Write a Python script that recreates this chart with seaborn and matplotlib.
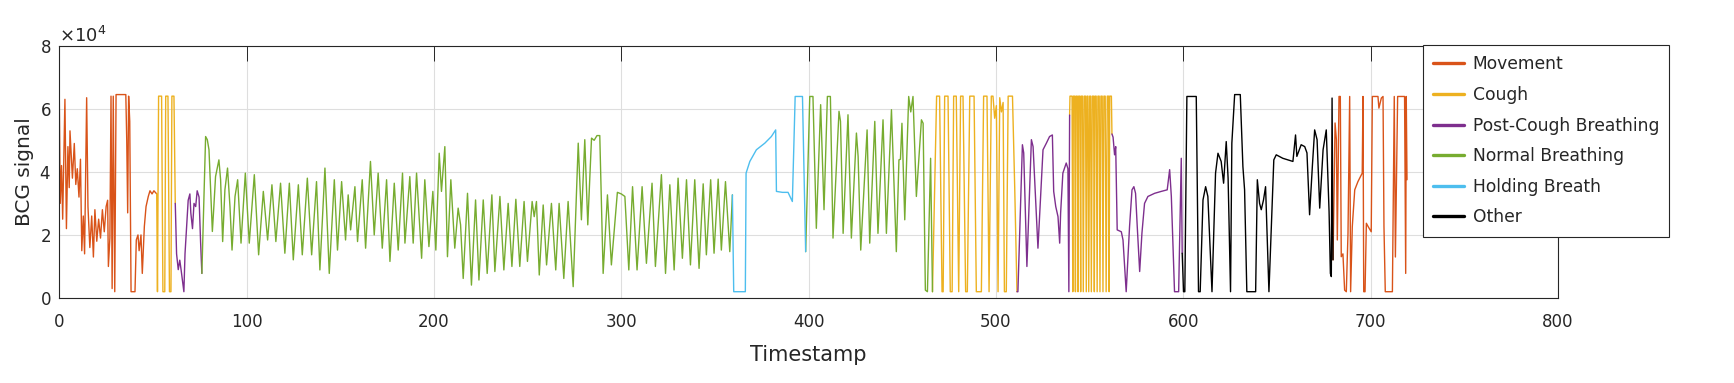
import numpy as np
import pandas as pd
import matplotlib
matplotlib.use("Agg")
import matplotlib.pyplot as plt
import seaborn as sns
from matplotlib.ticker import ScalarFormatter

sns.set_theme(style="white")
plt.rcParams['font.family'] = ['DejaVu Sans']

# signal values are in units of 1e4 (axis shows x10^4)
SCALE = 1e4

move1_t = [0.0, 0.5, 1.2, 1.8, 3.0, 3.8, 4.6, 5.3, 5.7, 7.0, 8.0, 8.8, 9.6, 10.5, 11.3, 12.0, 12.8,
           13.5, 14.6, 15.3, 16.3, 17.3, 18.2, 19.0, 20.0, 21.0, 22.0, 23.0, 24.0, 25.0, 25.8, 26.2,
           27.0, 27.6, 28.2, 28.8, 29.6, 30.3, 35.5, 36.0, 36.5, 37.0, 37.6, 38.3, 40.4, 41.1, 42.0,
           42.6, 43.6, 44.3, 45.4, 46.3, 47.5, 48.4, 49.5, 50.5, 52.0]
move1_v = [6.3, 3.0, 4.2, 2.5, 6.3, 2.2, 4.8, 3.5, 5.3, 3.8, 4.9, 3.6, 4.1, 3.2, 4.4, 1.5, 2.6,
           1.4, 6.35, 2.9, 1.6, 2.6, 1.3, 2.8, 1.8, 2.5, 1.9, 2.8, 2.1, 2.9, 3.1, 1.0,
           1.9, 6.4, 0.3, 6.4, 0.2, 6.45, 6.45, 5.0, 2.7, 6.4, 5.6, 0.2, 0.2, 1.84, 2.0,
           1.5, 2.0, 0.78, 2.27, 2.9, 3.22, 3.4, 3.3, 3.4, 3.3]

cough1_t = [52.0, 52.4, 53.0, 54.6, 55.3, 56.3, 56.8, 58.0, 58.8, 59.6, 60.1, 61.2, 61.9]
cough1_v = [3.3, 0.2, 6.4, 6.4, 0.2, 0.2, 6.4, 6.4, 0.2, 0.2, 6.4, 6.4, 3.0]

post1_t = [61.9, 62.6, 63.5, 64.3, 65.0, 66.5, 67.1, 68.0, 68.8, 69.7, 70.2, 71.1, 71.9, 72.8,
           73.6, 74.6, 75.4, 76.1]
post1_v = [3.0, 1.4, 0.9, 1.2, 0.9, 0.2, 1.4, 2.3, 3.1, 3.3, 2.7, 2.2, 3.0, 2.9,
           3.4, 3.2, 1.8, 0.78]

norm1_t = [76.1, 78.1, 79.0, 79.9, 80.8, 81.7, 82.5, 83.4, 85.2, 86.1, 87.2, 88.4, 89.8, 91.1,
           92.2, 93.8, 95.2, 97.0, 99.3, 101.4, 104.1, 106.4, 108.9, 111.2, 113.5, 115.6, 118.1,
           120.4, 122.8, 124.9, 127.6, 129.7, 132.4, 134.7, 137.3, 139.1, 141.8, 144.1, 146.8,
           148.5, 150.7, 152.8, 154.2, 155.5, 157.8, 159.2, 161.7, 163.5, 166.1, 168.1, 170.2,
           172.4, 174.7, 176.5, 178.8, 180.9, 183.2, 184.5, 187.1, 188.9, 190.7, 193.4, 195.1,
           197.3, 199.4, 201.0, 202.8, 204.0, 205.8, 207.2, 209.0, 211.1, 212.9, 214.2, 215.6,
           217.9, 220.0, 222.2, 224.0, 226.3, 228.4, 230.9, 232.5, 235.2, 237.3, 239.6, 241.6,
           243.7, 245.8, 248.1, 249.9, 252.4, 253.5, 254.7, 256.2, 258.3, 260.1, 262.7, 265.0,
           266.8, 269.3, 271.6, 274.3, 277.0, 278.7, 280.5, 282.1, 284.1, 285.5, 287.0, 288.5,
           290.3, 292.6, 294.7, 297.9, 300.0, 301.9, 304.0, 306.0, 308.4, 311.1, 313.4, 316.4,
           318.2, 321.4, 323.6, 325.9, 328.2, 330.3, 332.6, 334.8, 336.9, 339.2, 341.5, 343.7,
           345.4, 347.7, 349.5, 351.7, 353.4, 355.6, 357.9, 359.3]
norm1_v = [0.78, 5.12, 5.02, 4.7, 3.43, 2.11, 2.9, 3.85, 4.38, 3.75, 1.79, 3.43, 4.12, 2.9,
           1.52, 3.22, 3.75, 1.74, 3.96, 1.74, 3.91, 1.37, 3.38, 1.84, 3.59, 1.79, 3.64,
           1.42, 3.64, 1.21, 3.59, 1.37, 3.8, 1.37, 3.69, 0.89, 4.12, 0.78, 3.75,
           1.52, 3.69, 1.84, 3.27, 2.16, 3.53, 1.79, 3.75, 1.58, 4.33, 2.0, 3.96,
           1.58, 3.75, 1.16, 3.64, 1.52, 3.96, 1.74, 3.85, 1.74, 3.96, 1.26, 3.75,
           1.63, 3.38, 1.52, 4.59, 3.38, 4.8, 1.31, 3.75, 1.58, 2.85, 2.32, 0.62,
           3.32, 0.41, 3.11, 0.57, 3.11, 0.78, 3.27, 0.84, 3.22, 0.89, 3.0, 1.0,
           3.13, 1.0, 3.06, 1.16, 3.06, 2.58, 3.06, 0.73, 2.95, 1.05, 3.0, 0.89,
           3.0, 0.62, 3.06, 0.36, 4.91, 2.48, 5.02, 2.32, 5.07, 5.0, 5.15, 5.15,
           0.78, 3.27, 1.05, 3.35, 3.3, 3.22, 0.89, 3.53, 0.89, 3.53, 1.1, 3.64,
           1.0, 3.91, 0.78, 3.59, 0.89, 3.8, 1.26, 3.75, 1.05, 3.75, 0.94, 3.62,
           1.37, 3.75, 1.42, 3.77, 1.52, 3.69, 1.47, 3.27]

hold_t = [359.3, 360.0, 366.2, 366.6, 368.6, 372.1, 376.6, 380.1, 382.4, 382.8, 386.0, 389.0,
          391.3, 392.8, 396.7, 398.4]
hold_v = [3.27, 0.2, 0.2, 3.96, 4.33, 4.7, 4.91, 5.12, 5.33, 3.38, 3.35, 3.35,
          3.06, 6.39, 6.39, 1.47]

norm2_t = [398.4, 400.6, 402.3, 404.1, 406.4, 408.2, 410.0, 411.6, 413.0, 416.2, 417.0, 418.4,
           421.0, 422.8, 425.5, 426.4, 427.8, 431.2, 432.6, 435.3, 437.0, 439.7, 441.5, 444.2,
           446.8, 448.2, 449.0, 449.8, 451.3, 453.4, 454.5, 455.7, 457.5, 460.2, 461.1, 462.3,
           463.4, 465.1, 466.1]
norm2_v = [1.47, 6.39, 6.39, 2.21, 6.13, 2.8, 6.39, 6.39, 1.9, 5.92, 5.6, 2.05,
           5.81, 1.9, 5.23, 4.49, 1.52, 5.33, 1.74, 5.6, 2.05, 5.65, 2.05, 5.97,
           1.47, 4.38, 4.4, 5.54, 2.48, 6.39, 5.9, 6.39, 3.22, 5.65, 5.54, 0.25,
           0.2, 4.43, 0.2]

cough2_t = [466.1, 468.3, 469.9, 471.2, 471.8, 472.6, 474.4, 475.6, 476.6, 477.4, 478.8, 480.1,
            481.1, 482.4, 483.8, 484.7, 486.0, 488.3, 489.5, 492.2, 493.4, 495.2, 496.3, 497.5,
            498.4, 499.3, 500.2, 501.1, 502.0, 502.9, 503.8, 504.5, 505.5, 506.5, 508.8, 510.0,
            511.2]
cough2_v = [0.2, 6.4, 6.4, 0.2, 0.2, 6.4, 6.4, 0.2, 0.2, 6.4, 6.4, 0.2,
            6.4, 6.4, 0.2, 0.2, 6.4, 6.4, 0.2, 0.2, 6.4, 6.4, 0.2, 6.4,
            6.4, 5.7, 6.1, 0.2, 6.35, 5.9, 6.2, 0.2, 0.2, 6.4, 6.4, 3.5,
            0.2]

post2_t = [511.2, 511.7, 514.1, 514.8, 516.5, 518.9, 519.8, 522.4, 525.1, 526.9, 528.6, 530.1,
           530.8, 531.9, 533.1, 534.0, 534.5, 535.7, 537.5, 538.4, 538.9, 539.3]
post2_v = [0.2, 0.2, 4.86, 4.6, 1.0, 5.02, 4.8, 1.58, 4.7, 4.91, 5.12, 5.17,
           3.38, 2.9, 2.58, 1.74, 2.69, 3.96, 4.28, 4.1, 0.2, 5.8]

cough3_t = [539.3, 539.5, 540.6, 541.0, 541.3, 542.0, 542.4, 542.7, 543.4, 543.8, 544.1, 544.8,
            545.2, 545.5, 546.2, 546.6, 547.1, 547.8, 548.2, 548.6, 549.1, 549.5, 550.0, 550.5,
            550.9, 551.4, 552.1, 552.5, 552.8, 553.5, 554.0, 554.4, 555.1, 555.5, 556.0, 556.7,
            557.1, 557.6, 558.3, 558.8, 559.4, 560.1, 560.4, 560.7, 561.6, 561.9]
cough3_v = [5.8, 6.4, 6.4, 0.2, 6.4, 6.4, 0.2, 6.4, 6.4, 0.2, 6.4, 6.4,
            0.2, 6.4, 6.4, 0.2, 6.4, 6.4, 0.2, 6.4, 6.4, 0.2, 6.4, 6.4,
            0.2, 6.4, 6.4, 0.2, 6.4, 6.4, 0.2, 6.4, 6.4, 0.2, 6.4, 6.4,
            0.2, 6.4, 6.4, 0.2, 6.4, 6.4, 0.2, 6.4, 6.4, 5.2]

post3_t = [561.9, 562.5, 563.3, 563.9, 564.7, 566.9, 567.8, 569.5, 571.3, 572.6, 573.6, 574.5,
           575.4, 576.7, 577.9, 579.3, 581.1, 584.7, 588.2, 591.4, 592.7, 593.6, 594.5, 595.3,
           597.5, 598.9, 599.4]
post3_v = [5.2, 5.1, 4.54, 4.8, 2.16, 2.1, 1.84, 0.2, 2.27, 3.43, 3.53, 3.32,
           2.27, 0.84, 2.05, 3.0, 3.22, 3.32, 3.38, 3.43, 4.07, 3.22, 1.63, 0.2,
           0.2, 4.43, 1.42]

other_t = [599.4, 600.1, 600.8, 601.9, 606.9, 608.1, 609.0, 610.5, 611.9, 613.1, 615.3, 617.2,
           618.5, 620.2, 621.5, 622.9, 623.9, 625.2, 625.9, 627.4, 630.4, 631.8, 632.7, 633.9,
           638.6, 639.5, 640.7, 641.6, 642.8, 643.9, 645.7, 648.3, 649.6, 653.1, 658.5, 659.9,
           660.6, 662.9, 664.8, 666.0, 667.4, 668.9, 670.1, 671.4, 672.8, 674.6, 676.3, 677.8,
           678.5, 679.0, 679.4, 679.9]
other_v = [1.42, 0.2, 0.2, 6.39, 6.39, 0.2, 0.2, 3.11, 3.53, 3.22, 0.2, 3.96,
           4.59, 4.33, 3.64, 4.96, 3.8, 0.2, 4.91, 6.45, 6.45, 4.17, 3.43, 0.2,
           0.2, 3.75, 3.0, 2.8, 3.11, 3.53, 0.2, 4.38, 4.54, 4.43, 4.33, 5.17,
           4.49, 4.86, 4.8, 4.6, 2.64, 4.2, 5.33, 5.02, 2.85, 4.7, 5.33, 2.74,
           0.78, 0.68, 6.34, 1.21]

move2_t = [679.9, 680.4, 681.0, 681.7, 682.2, 683.1, 683.8, 684.3, 685.2, 686.1, 687.0, 687.9,
           688.8, 689.3, 690.2, 691.5, 693.2, 695.5, 695.9, 696.3, 697.0, 697.7, 698.6, 700.3,
           700.9, 703.9, 704.4, 705.7, 706.6, 707.1, 707.8, 711.6, 712.6, 713.2, 714.4, 718.1,
           718.7, 719.0, 719.4]
move2_v = [1.21, 3.11, 5.55, 5.02, 1.84, 6.39, 6.39, 1.31, 1.4, 0.25, 0.2, 2.05,
           6.39, 0.2, 2.27, 3.43, 3.69, 3.96, 6.39, 0.2, 0.2, 2.37, 2.27, 2.1,
           6.39, 6.39, 6.02, 6.34, 6.39, 2.27, 0.2, 0.2, 6.39, 1.3, 6.39, 6.39,
           0.78, 6.39, 3.75]

labels = ["Movement", "Cough", "Post-Cough Breathing", "Normal Breathing", "Holding Breath", "Other"]
colors = ["#D95319", "#EDB120", "#7E2F8E", "#77AC30", "#4DBEEE", "#000000"]

segments = [
    ("Movement", move1_t, move1_v),
    ("Cough", cough1_t, cough1_v),
    ("Post-Cough Breathing", post1_t, post1_v),
    ("Normal Breathing", norm1_t, norm1_v),
    ("Holding Breath", hold_t, hold_v),
    ("Normal Breathing", norm2_t, norm2_v),
    ("Cough", cough2_t, cough2_v),
    ("Post-Cough Breathing", post2_t, post2_v),
    ("Cough", cough3_t, cough3_v),
    ("Post-Cough Breathing", post3_t, post3_v),
    ("Other", other_t, other_v),
    ("Movement", move2_t, move2_v),
]

rows = []
for i, (lab, ts, vs) in enumerate(segments):
    for t, v in zip(ts, vs):
        rows.append((i, lab, t, v * SCALE))
df = pd.DataFrame(rows, columns=["seg", "label", "Timestamp", "BCG"])

fig = plt.figure(figsize=(17.34, 3.83), dpi=100)
ax = fig.add_axes([0.0342, 0.2219, 0.8643, 0.6588])

sns.lineplot(data=df, x="Timestamp", y="BCG", hue="label", hue_order=labels,
             palette=dict(zip(labels, colors)), units="seg", estimator=None, sort=False,
             linewidth=1.0, ax=ax, legend=False)

ax.set_xlim(0, 800)
ax.set_ylim(0, 8e4)
ax.set_xticks(range(0, 801, 100))
ax.set_yticks([0, 2e4, 4e4, 6e4, 8e4])
fmt = ScalarFormatter(useMathText=True)
fmt.set_powerlimits((0, 0))
ax.yaxis.set_major_formatter(fmt)
ax.yaxis.get_offset_text().set_fontsize(13)
ax.yaxis.get_offset_text().set_color("#262626")

ax.grid(True, color="#dedede", linewidth=0.8)
ax.set_axisbelow(True)
for s in ax.spines.values():
    s.set_color("#262626")
    s.set_linewidth(0.8)
ax.tick_params(direction="in", length=10.5, width=0.7, color="#262626",
               top=True, right=True, labelsize=12, labelcolor="#262626")
ax.tick_params(axis="x", pad=11)
ax.tick_params(axis="y", pad=6)
ax.set_xlabel("Timestamp", fontsize=15, color="#262626", labelpad=10)
ax.set_ylabel("BCG signal", fontsize=14.5, color="#262626")

handles = [plt.Line2D([], [], color=c, lw=2.4) for c in colors]
leg = fig.legend(handles, labels, loc="upper left", bbox_to_anchor=(0.8207, 0.8825),
                 fontsize=12.3, frameon=True, fancybox=False, framealpha=1,
                 edgecolor="#262626", borderpad=0.6, labelspacing=0.74,
                 handlelength=1.8, handletextpad=0.5, borderaxespad=0)
leg.get_frame().set_linewidth(0.8)

fig.savefig("out.png", dpi=100)
